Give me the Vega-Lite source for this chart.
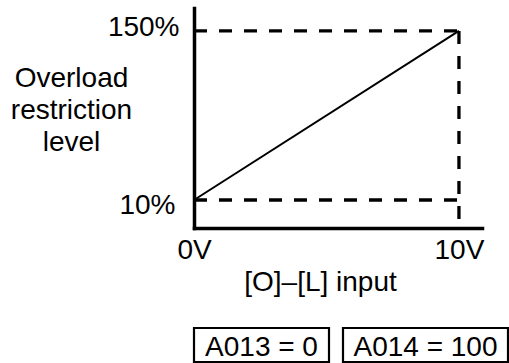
{
  "$schema": "https://vega.github.io/schema/vega-lite/v6.json",
  "autosize": {"type": "pad"},
  "padding": {"left": 10, "top": 8, "right": 0, "bottom": 0},
  "background": "white",
  "config": {
    "view": {"stroke": null},
    "font": "Liberation Sans",
    "axis": {
      "labelFont": "Liberation Sans",
      "titleFont": "Liberation Sans",
      "labelColor": "black",
      "titleColor": "black",
      "domainColor": "black",
      "labelFontSize": 28,
      "titleFontSize": 28,
      "titleFontWeight": "normal",
      "grid": false,
      "ticks": false,
      "labelFlush": false,
      "labelOverlap": false
    }
  },
  "spacing": 100,
  "bounds": "flush",
  "vconcat": [
    {
      "width": 288,
      "height": 220,
      "encoding": {
        "x": {
          "field": "v",
          "type": "quantitative",
          "scale": {"domain": [0, 10.87], "nice": false, "zero": false},
          "axis": {
            "values": [0, 10],
            "labelExpr": "datum.value + 'V'",
            "domainWidth": 3.5,
            "domainCap": "square",
            "labelPadding": 8,
            "title": "[O]–[L] input",
            "titleX": 126,
            "titleY": 62,
            "titleAlign": "center",
            "titleBaseline": "alphabetic"
          }
        },
        "y": {
          "field": "p",
          "type": "quantitative",
          "scale": {"domain": [-13.2, 169], "nice": false, "zero": false},
          "axis": {
            "values": [10, 150],
            "labelExpr": "datum.value + '%'",
            "domainWidth": 3.5,
            "domainCap": "square",
            "labelBaseline": "middle",
            "labelPadding": {"condition": {"test": "datum.value > 100", "value": 15}, "value": 19},
            "labelOffset": {"condition": {"test": "datum.value > 100", "value": -3}, "value": 6},
            "title": ["Overload", "restriction", "level"],
            "titleAngle": 0,
            "titleX": -123,
            "titleY": 78,
            "titleAlign": "center",
            "titleBaseline": "alphabetic",
            "titleLineHeight": 32
          }
        }
      },
      "layer": [
        {
          "data": {"values": [
            {"v": 0, "v2": 10, "p": 150, "p2": 150},
            {"v": 10, "v2": 10, "p": 150, "p2": -13.2},
            {"v": 0, "v2": 10, "p": 10, "p2": 10}
          ]},
          "mark": {"type": "rule", "color": "black", "strokeWidth": 3.3, "strokeDash": [13, 12]},
          "encoding": {
            "x2": {"field": "v2"},
            "y2": {"field": "p2"}
          }
        },
        {
          "data": {"values": [
            {"v": 0, "p": 10},
            {"v": 10, "p": 150}
          ]},
          "mark": {"type": "line", "color": "black", "strokeWidth": 2}
        }
      ]
    },
    {
      "spacing": 14,
      "bounds": "flush",
      "hconcat": [
        {
          "width": 135,
          "height": 34,
          "view": {"stroke": "black", "strokeWidth": 2.2},
          "data": {"values": [{"setting": "A013 = 0"}]},
          "mark": {"type": "text", "fontSize": 28, "font": "Liberation Sans", "color": "black", "align": "center", "baseline": "middle", "dy": 3},
          "encoding": {"text": {"field": "setting", "type": "nominal"}}
        },
        {
          "width": 165,
          "height": 34,
          "view": {"stroke": "black", "strokeWidth": 2.2},
          "data": {"values": [{"setting": "A014 = 100"}]},
          "mark": {"type": "text", "fontSize": 28, "font": "Liberation Sans", "color": "black", "align": "center", "baseline": "middle", "dy": 3},
          "encoding": {"text": {"field": "setting", "type": "nominal"}}
        }
      ]
    }
  ]
}
